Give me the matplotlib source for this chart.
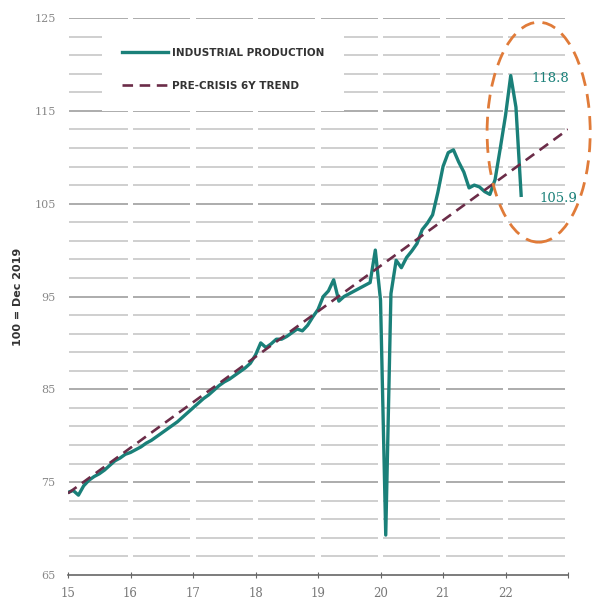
import numpy as np
import matplotlib.pyplot as plt
from matplotlib.patches import Ellipse

plt.rcParams['font.family'] = ['DejaVu Sans']

# industrial production, monthly from Jan 2015 (100 = Dec 2019)
ip_2015 = [73.9, 74.1, 73.6, 74.6, 75.2, 75.6, 75.9, 76.3, 76.8, 77.3, 77.6, 78.0]
ip_2016 = [78.2, 78.5, 78.8, 79.2, 79.5, 79.9, 80.3, 80.7, 81.1, 81.5, 82.0, 82.5]
ip_2017 = [83.0, 83.5, 84.0, 84.4, 84.9, 85.4, 85.8, 86.1, 86.5, 86.9, 87.3, 87.8]
ip_2018 = [88.7, 90.0, 89.5, 89.9, 90.4, 90.4, 90.7, 91.1, 91.5, 91.3, 91.9, 92.8]
ip_2019 = [93.6, 95.0, 95.6, 96.8, 94.5, 95.0, 95.3, 95.6, 95.9, 96.2, 96.5, 100.0]
ip_2020 = [94.6, 69.3, 95.3, 98.9, 98.1, 99.2, 99.9, 100.7, 102.2, 102.9, 103.8, 106.2]
ip_2021 = [109.0, 110.5, 110.8, 109.5, 108.4, 106.7, 107.0, 106.8, 106.3, 106.0, 107.6, 111.0]
ip_2022 = [114.5, 118.8, 115.4, 105.9]

ip = ip_2015 + ip_2016 + ip_2017 + ip_2018 + ip_2019 + ip_2020 + ip_2021 + ip_2022
months = np.arange(len(ip))
x_ip = 15 + months / 12

# pre-crisis trend
trend_x = [15, 23]
trend_y = [73.8, 113.0]

x_ticks = [15, 16, 17, 18, 19, 20, 21, 22, 23]
x_labels = ['15', '16', '17', '18', '19', '20', '21', '22', '']
y_ticks = [65, 75, 85, 95, 105, 115, 125]
grid_y = list(range(67, 126, 2))

teal = '#1A8079'
maroon = '#6B2C48'
orange = '#E07B39'

fig = plt.figure(figsize=(5.92, 6.01), dpi=100)
ax = fig.add_axes([0.1149, 0.0433, 0.8446, 0.9267])

# broken horizontal gridlines (gap at each year)
for y in grid_y:
    col = '#a6a6a6' if y % 10 == 5 else '#cbcbcb'
    for yr in range(15, 23):
        x0 = yr + 0.01 if yr == 15 else yr + 0.045
        ax.hlines(y, x0, yr + 0.955, color=col, lw=1.3, zorder=1)

ax.plot(x_ip, ip, color=teal, lw=2.4, label='INDUSTRIAL PRODUCTION', zorder=3)
ax.plot(trend_x, trend_y, color=maroon, lw=1.9, ls=(0, (4, 2.5)),
        label='PRE-CRISIS 6Y TREND', zorder=4)

# highlight recent months
ell = Ellipse((22.53, 112.7), 1.65, 23.7, fill=False, edgecolor=orange,
              lw=2.0, ls=(0, (5, 3)), clip_on=False, zorder=5)
ax.add_patch(ell)

ax.text(22.41, 118.5, '118.8', color=teal, va='center', ha='left',
        family='DejaVu Serif', fontsize=9.5)
ax.text(22.55, 105.6, '105.9', color=teal, va='center', ha='left',
        family='DejaVu Serif', fontsize=9.5)

ax.set_xlim(15, 23)
ax.set_ylim(65, 125)
ax.set_xticks(x_ticks)
ax.set_xticklabels(x_labels)
ax.set_yticks(y_ticks)

for s in ['top', 'right', 'left']:
    ax.spines[s].set_visible(False)
ax.spines['bottom'].set_color('#666666')
ax.spines['bottom'].set_linewidth(1.2)

ax.tick_params(axis='x', direction='inout', length=4, color='#666666',
               labelcolor='#777777', labelsize=8.5, pad=7)
ax.tick_params(axis='y', length=0, labelcolor='#888888', labelsize=8, pad=9)
for lab in ax.get_xticklabels() + ax.get_yticklabels():
    lab.set_family('DejaVu Serif')

ax.set_ylabel('100 = Dec 2019', fontweight='bold', fontsize=8, color='#333333')
ax.yaxis.set_label_coords(-0.09, 0.5)

leg = ax.legend(loc='upper left', bbox_to_anchor=(0.068, 0.982), borderaxespad=0,
                frameon=True, facecolor='white', edgecolor='none', framealpha=1,
                fancybox=False, prop=dict(weight='bold', size=7.5),
                handlelength=4.4, handletextpad=0.4, labelspacing=2.2, borderpad=1.9)
for t in leg.get_texts():
    t.set_color('#333333')

fig.savefig('out.png', dpi=100)
